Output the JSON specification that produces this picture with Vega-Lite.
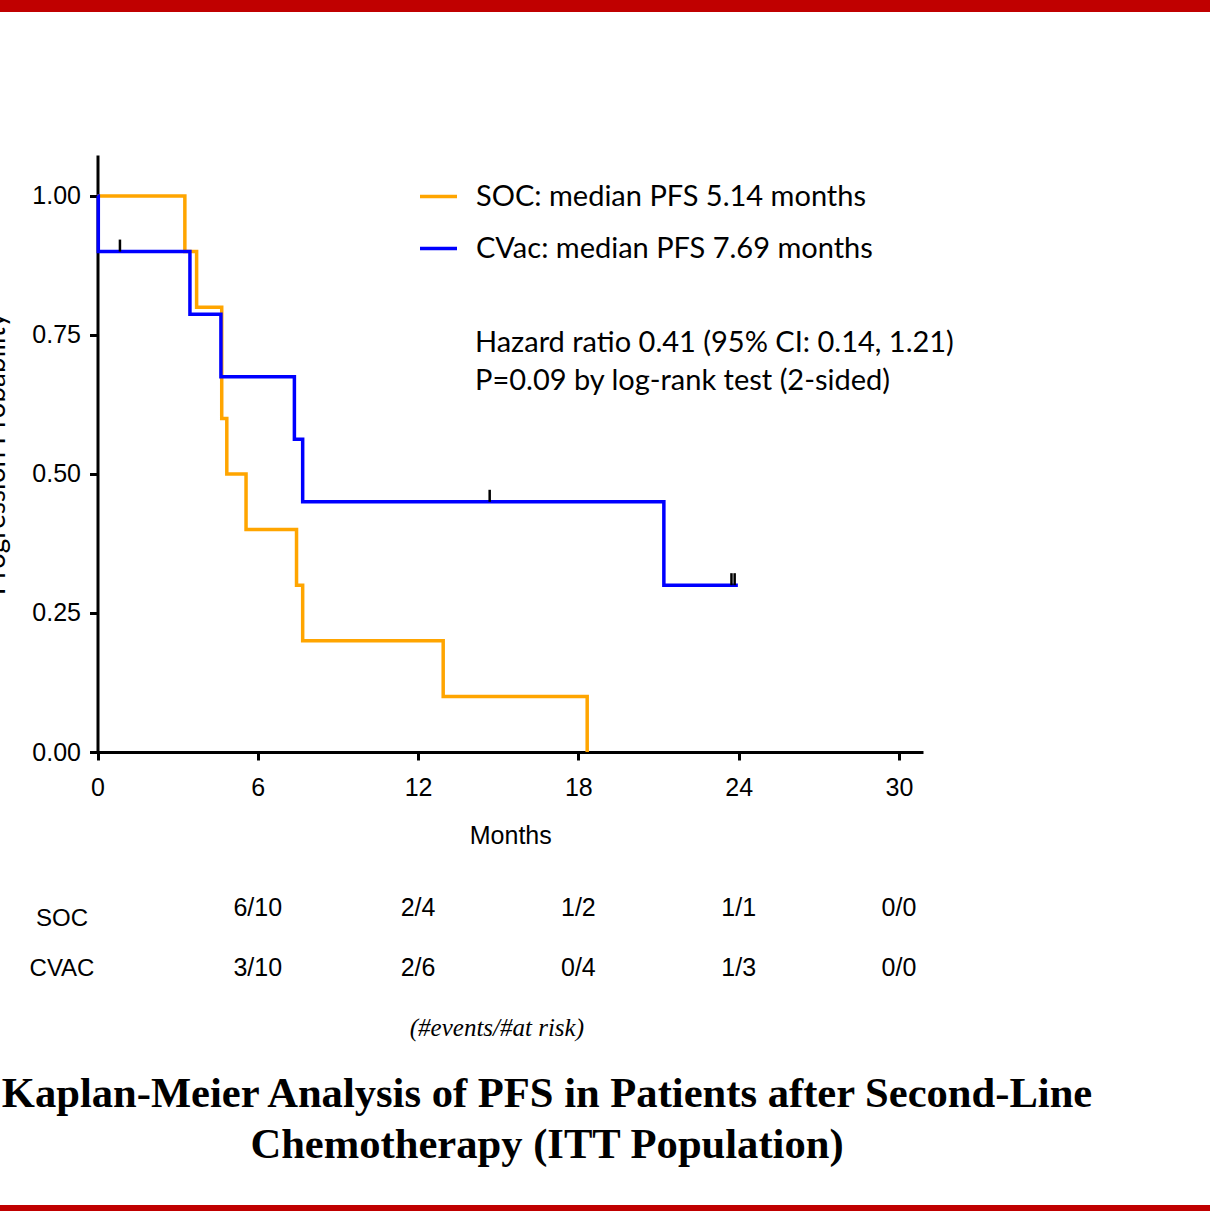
{
  "$schema": "https://vega.github.io/schema/vega-lite/v6.json",
  "width": 1210,
  "height": 1193,
  "autosize": {"type": "none"},
  "padding": {"top": 12, "bottom": 6, "left": 0, "right": 0},
  "background": "#C00000",
  "config": {"view": {"fill": "white", "stroke": null}, "axis": {"grid": false}},
  "title": {
    "text": ["Kaplan-Meier Analysis of PFS in Patients after Second-Line", "Chemotherapy (ITT Population)"],
    "orient": "bottom", "frame": "group", "anchor": "middle", "dx": -58, "offset": -132,
    "font": "Liberation Serif", "fontSize": 42.6, "fontWeight": "bold", "lineHeight": 51, "color": "black"
  },
  "datasets": {
    "km": [
      {"group": "SOC", "time": 0, "surv": 1.0},
      {"group": "SOC", "time": 3.27, "surv": 0.9},
      {"group": "SOC", "time": 3.71, "surv": 0.8},
      {"group": "SOC", "time": 4.65, "surv": 0.6},
      {"group": "SOC", "time": 4.84, "surv": 0.5},
      {"group": "SOC", "time": 5.56, "surv": 0.4},
      {"group": "SOC", "time": 7.45, "surv": 0.3},
      {"group": "SOC", "time": 7.68, "surv": 0.2},
      {"group": "SOC", "time": 12.94, "surv": 0.1},
      {"group": "SOC", "time": 18.33, "surv": 0.0},
      {"group": "CVac", "time": 0, "surv": 1.0},
      {"group": "CVac", "time": 0.03, "surv": 0.9},
      {"group": "CVac", "time": 3.46, "surv": 0.7875},
      {"group": "CVac", "time": 4.62, "surv": 0.675},
      {"group": "CVac", "time": 7.37, "surv": 0.5625},
      {"group": "CVac", "time": 7.68, "surv": 0.45},
      {"group": "CVac", "time": 21.2, "surv": 0.3},
      {"group": "CVac", "time": 23.97, "surv": 0.3}
    ],
    "censor": [
      {"group": "CVac", "time": 0.84, "surv": 0.9},
      {"group": "CVac", "time": 14.68, "surv": 0.45},
      {"group": "CVac", "time": 23.73, "surv": 0.3},
      {"group": "CVac", "time": 23.85, "surv": 0.3}
    ],
    "risk": [
      {"group": "SOC", "time": 6, "label": "6/10"},
      {"group": "SOC", "time": 12, "label": "2/4"},
      {"group": "SOC", "time": 18, "label": "1/2"},
      {"group": "SOC", "time": 24, "label": "1/1"},
      {"group": "SOC", "time": 30, "label": "0/0"},
      {"group": "CVAC", "time": 6, "label": "3/10"},
      {"group": "CVAC", "time": 12, "label": "2/6"},
      {"group": "CVAC", "time": 18, "label": "0/4"},
      {"group": "CVAC", "time": 24, "label": "1/3"},
      {"group": "CVAC", "time": 30, "label": "0/0"}
    ]
  },
  "layer": [
    {
      "layer": [
        {
          "data": {"name": "km"},
          "transform": [{"filter": "datum.group === 'SOC'"}],
          "mark": {"type": "line", "interpolate": "step-after", "strokeWidth": 3.5},
          "encoding": {
            "x": {
              "field": "time", "type": "quantitative",
              "scale": {"domain": [0, 30.9], "range": [97.5, 923], "nice": false, "zero": false},
              "axis": {
                "orient": "bottom", "offset": -453, "values": [0, 6, 12, 18, 24, 30],
                "title": "Months", "titleFont": "Liberation Sans", "titleFontSize": 25, "titleFontWeight": "normal",
                "titleColor": "black", "titleBaseline": "middle", "titleY": 83,
                "labelFont": "Liberation Sans", "labelFontSize": 25, "labelColor": "black", "labelPadding": 15,
                "labelFlush": false, "labelOverlap": false,
                "tickSize": 8, "tickWidth": 3, "tickColor": "black", "domainColor": "black", "domainWidth": 3, "grid": false
              }
            },
            "y": {
              "field": "surv", "type": "quantitative",
              "scale": {"domain": [0, 1.0737], "range": [740, 143], "nice": false, "zero": false},
              "axis": {
                "orient": "left", "offset": -97.5, "values": [0, 0.25, 0.5, 0.75, 1], "format": ".2f",
                "labelFont": "Liberation Sans", "labelFontSize": 25, "labelColor": "black", "labelPadding": 9,
                "labelFlush": false, "labelOverlap": false, "labelBaseline": "middle",
                "tickSize": 8, "tickWidth": 3, "tickColor": "black", "domainColor": "black", "domainWidth": 3, "grid": false,
                "title": "Progression Probability", "titleFont": "Lato", "titleFontSize": 28, "titleFontWeight": "normal",
                "titleColor": "black", "titleX": -87, "titleBaseline": "bottom", "titleAngle": -90
              }
            },
            "color": {
              "field": "group", "type": "nominal",
              "scale": {"domain": ["SOC", "CVac"], "range": ["#FFA500", "#0000FF"]},
              "legend": {
                "orient": "none", "legendX": 418, "legendY": 164, "direction": "vertical", "title": null,
                "symbolType": "stroke", "symbolSize": 1369, "symbolStrokeWidth": 3.5,
                "labelFont": "Lato", "labelFontSize": 29, "labelColor": "black", "labelOffset": 17, "labelLimit": 0,
                "rowPadding": 16, "padding": 0,
                "labelExpr": "datum.label === 'SOC' ? 'SOC: median PFS 5.14 months' : 'CVac: median PFS 7.69 months'"
              }
            }
          }
        },
        {
          "data": {"name": "km"},
          "transform": [{"filter": "datum.group === 'CVac'"}],
          "mark": {"type": "line", "interpolate": "step-after", "strokeWidth": 3.5},
          "encoding": {
            "x": {"field": "time", "type": "quantitative"},
            "y": {"field": "surv", "type": "quantitative"},
            "color": {"field": "group", "type": "nominal"}
          }
        },
        {
          "data": {"name": "censor"},
          "mark": {"type": "tick", "orient": "vertical", "size": 12, "thickness": 2.5, "yOffset": -6, "color": "black", "opacity": 1},
          "encoding": {
            "x": {"field": "time", "type": "quantitative"},
            "y": {"field": "surv", "type": "quantitative"}
          }
        },
        {
          "data": {"values": [{}]},
          "mark": {"type": "text", "align": "left", "baseline": "alphabetic", "font": "Lato", "fontSize": 29, "lineHeight": 38, "color": "black"},
          "encoding": {
            "x": {"datum": 14.13, "type": "quantitative"},
            "y": {"datum": 0.7194, "type": "quantitative"},
            "text": {"value": ["Hazard ratio 0.41 (95% CI: 0.14, 1.21)", "P=0.09 by log-rank test (2-sided)"]}
          }
        }
      ]
    },
    {
      "data": {"name": "risk"},
      "layer": [
        {
          "mark": {"type": "text", "font": "Liberation Sans", "fontSize": 25, "baseline": "middle", "align": "center", "color": "black"},
          "encoding": {
            "x": {"field": "time", "type": "quantitative"},
            "y": {
              "field": "group", "type": "nominal",
              "scale": {"type": "point", "domain": ["SOC", "CVAC", "note"], "range": [896, 1016], "padding": 0},
              "axis": {
                "orient": "left", "offset": -97.5, "domain": false, "ticks": false, "tickSize": 0, "grid": false, "title": null,
                "labelFont": "Liberation Sans", "labelFontSize": 24, "labelColor": "black", "labelAlign": "center",
                "labelBaseline": "middle", "labelPadding": 36,
                "labelOffset": {"condition": {"test": "datum.value === 'SOC'", "value": 10}, "value": 0},
                "labelExpr": "datum.value === 'note' ? '' : datum.value"
              }
            },
            "text": {"field": "label"}
          }
        },
        {
          "data": {"values": [{}]},
          "mark": {"type": "text", "font": "Liberation Serif", "fontStyle": "italic", "fontSize": 25, "baseline": "middle", "align": "center", "color": "black"},
          "encoding": {
            "x": {"datum": 14.95, "type": "quantitative"},
            "y": {"datum": "note", "type": "nominal"},
            "text": {"value": "(#events/#at risk)"}
          }
        }
      ]
    }
  ],
  "resolve": {"scale": {"y": "independent"}, "axis": {"y": "independent"}}
}
